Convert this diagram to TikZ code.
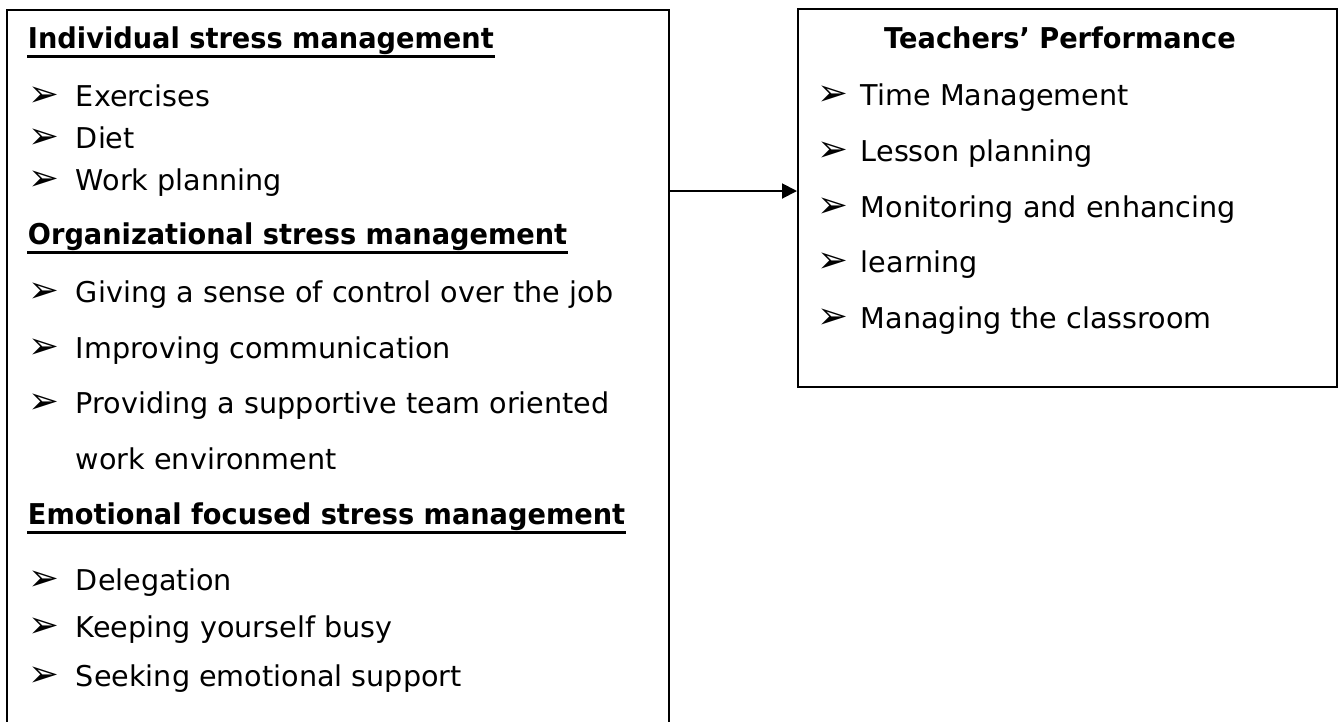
\documentclass[tikz,border=0pt]{standalone}
\usepackage{fontspec}
\setmainfont{DejaVu Sans}[BoldFeatures={FakeStretch=0.95}]
\newfontfamily\dingfont{DejaVu Sans}
\usetikzlibrary{arrows.meta}

\begin{document}
\begin{tikzpicture}
[x=0.02cm, y=-0.02cm, line width=1.1pt,
font=\fontsize{16.3}{19}\selectfont,
box/.style={rectangle, draw, line width=1.1pt, anchor=north west, inner sep=0pt},
head/.style={anchor=base west, inner sep=0pt, font=\fontsize{16.3}{19}\selectfont\bfseries},
title/.style={anchor=base, inner sep=0pt, font=\fontsize{16.3}{19}\selectfont\bfseries},
item/.style={anchor=base west, inner sep=0pt},
tick/.style={anchor=base west, inner sep=0pt, font=\fontsize{21}{23}\selectfont\dingfont},
uline/.style={line width=1.7pt}]

\useasboundingbox (0,0) rectangle (1338,721);

% the two frames
\node[box, minimum width=13.24cm, minimum height=14.8cm] (lbox) at (6,9) {};
\node[box, minimum width=10.78cm, minimum height=7.56cm] (rbox) at (797,8) {};

\coordinate (link) at (730,191);
\draw[-{Triangle[length=0.3cm, width=0.3cm]}] (lbox.east |- link) -- (rbox.west |- link);

% left frame
\node[head] (lh1) at (27,48) {Individual stress management};
\draw[uline] ([yshift=-5pt]lh1.base west) -- ([yshift=-5pt]lh1.base east);
\node[tick] (lb1) at (28,106) {➢};
\node[item] (li1) at (75,106) {Exercises};
\node[tick] (lb2) at (28,148) {➢};
\node[item] (li2) at (75,148) {Diet};
\node[tick] (lb3) at (28,190) {➢};
\node[item] (li3) at (75,190) {Work planning};

\node[head] (lh2) at (27,244) {Organizational stress management};
\draw[uline] ([yshift=-5pt]lh2.base west) -- ([yshift=-5pt]lh2.base east);
\node[tick] (lb4) at (28,302) {➢};
\node[item] (li4) at (75,302) {Giving a sense of control over the job};
\node[tick] (lb5) at (28,358) {➢};
\node[item] (li5) at (75,358) {Improving communication};
\node[tick] (lb6) at (28,413) {➢};
\node[item] (li6) at (75,413) {Providing a supportive team oriented};
\node[item] (li7) at (75,469) {work environment};

\node[head] (lh3) at (27,524) {Emotional focused stress management};
\draw[uline] ([yshift=-5pt]lh3.base west) -- ([yshift=-5pt]lh3.base east);
\node[tick] (lb8) at (28,590) {➢};
\node[item] (li8) at (75,590) {Delegation};
\node[tick] (lb9) at (28,637) {➢};
\node[item] (li9) at (75,637) {Keeping yourself busy};
\node[tick] (lb10) at (28,686) {➢};
\node[item] (li10) at (75,686) {Seeking emotional support};

% right frame
\node[title] (rh) at (1060,48) {Teachers’ Performance};
\node[tick] (rb1) at (817,105) {➢};
\node[item] (ri1) at (860,105) {Time Management};
\node[tick] (rb2) at (817,161) {➢};
\node[item] (ri2) at (860,161) {Lesson planning};
\node[tick] (rb3) at (817,217) {➢};
\node[item] (ri3) at (860,217) {Monitoring and enhancing};
\node[tick] (rb4) at (817,272) {➢};
\node[item] (ri4) at (860,272) {learning};
\node[tick] (rb5) at (817,328) {➢};
\node[item] (ri5) at (860,328) {Managing the classroom};
\end{tikzpicture}
\end{document}
